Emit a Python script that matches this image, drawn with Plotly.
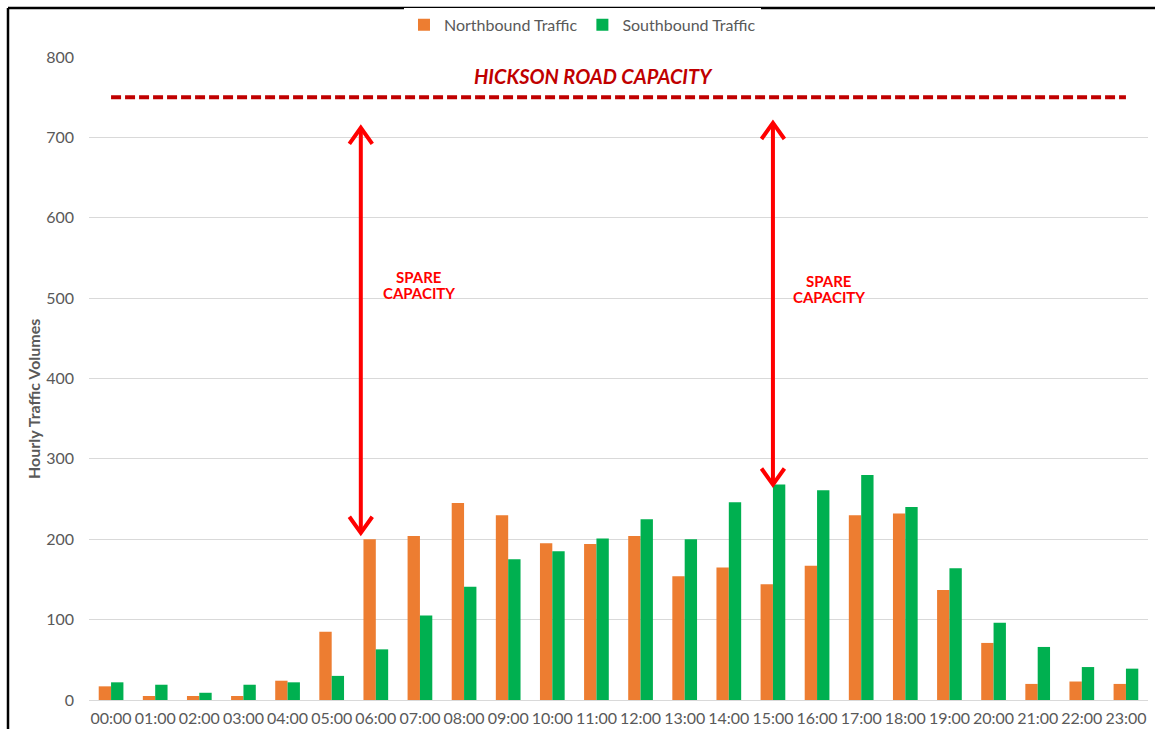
import plotly.graph_objects as go

hours = [f"{h:02d}:00" for h in range(24)]
northbound = [17, 5, 5, 5, 24, 85, 200, 204, 245, 230, 195, 194, 204, 154, 165, 144, 167, 230, 232, 137, 71, 20, 23, 20]
southbound = [22, 19, 9, 19, 22, 30, 63, 105, 141, 175, 185, 201, 225, 200, 246, 268, 261, 280, 240, 164, 96, 66, 41, 39]
capacity = 750
y_ticks = [0, 100, 200, 300, 400, 500, 600, 700, 800]

FONT = "Lato"
GRAY = "#595959"
W, H = 1155, 729
ML, MR, MT, MB = 89, 7, 57, 29
PW, PH = W - ML - MR, H - MT - MB

fig = go.Figure()
fig.add_trace(go.Bar(x=list(range(24)), y=northbound, name="Northbound Traffic",
                     marker=dict(color="#ED7D31", line=dict(width=0))))
fig.add_trace(go.Bar(x=list(range(24)), y=southbound, name="Southbound Traffic",
                     marker=dict(color="#00B050", line=dict(width=0))))

# capacity line
fig.add_trace(go.Scatter(x=[0, 23], y=[capacity, capacity], mode="lines",
                         line=dict(color="#C00000", width=4, dash="10px,4px"),
                         showlegend=False, hoverinfo="skip"))

shapes = []
def arrow(xc, y_bot, y_top):
    dx, dy = 0.26, 20
    shapes.append(dict(type="line", xref="x", yref="y", x0=xc, x1=xc, y0=y_bot + 3, y1=y_top - 3,
                       line=dict(color="#FF0000", width=4)))
    path = (f"M {xc-dx},{y_top-dy} L {xc},{y_top} L {xc+dx},{y_top-dy} "
            f"M {xc-dx},{y_bot+dy} L {xc},{y_bot} L {xc+dx},{y_bot+dy}")
    shapes.append(dict(type="path", xref="x", yref="y", path=path,
                       line=dict(color="#FF0000", width=4)))

arrow(5.66, 208, 712)
arrow(15.0, 268, 718)

# frame: only left and top edges are visible in the picture
fx0 = (8 - ML) / PW
fy1 = (H - MB - 8) / PH
shapes.append(dict(type="line", xref="paper", yref="paper", x0=fx0, x1=(W - ML) / PW,
                   y0=fy1, y1=fy1, line=dict(color="black", width=2.5), layer="above"))
shapes.append(dict(type="line", xref="paper", yref="paper", x0=fx0, x1=fx0,
                   y0=-MB / PH, y1=fy1, line=dict(color="black", width=2.5), layer="above"))

red = "#FF0000"
annotations = [
    dict(x=10.94, y=776, xref="x", yref="y", text="<b><i>HICKSON ROAD CAPACITY</i></b>",
         showarrow=False, font=dict(family=FONT, size=20, color="#C00000")),
    dict(x=6.98, y=526, xref="x", yref="y", text="<b>SPARE</b>",
         showarrow=False, font=dict(family=FONT, size=15, color=red)),
    dict(x=6.98, y=506, xref="x", yref="y", text="<b>CAPACITY</b>",
         showarrow=False, font=dict(family=FONT, size=15, color=red)),
    dict(x=16.27, y=521, xref="x", yref="y", text="<b>SPARE</b>",
         showarrow=False, font=dict(family=FONT, size=15, color=red)),
    dict(x=16.27, y=501, xref="x", yref="y", text="<b>CAPACITY</b>",
         showarrow=False, font=dict(family=FONT, size=15, color=red)),
    dict(x=(33 - ML) / PW, y=(H - MB - 399) / PH, xref="paper", yref="paper",
         text="<b>Hourly Traffic Volumes</b>", textangle=-90, showarrow=False,
         xanchor="center", yanchor="middle",
         font=dict(family=FONT, size=16, color=GRAY)),
]

fig.update_layout(
    width=W, height=H,
    margin=dict(l=ML, r=MR, t=MT, b=MB),
    paper_bgcolor="white", plot_bgcolor="white",
    barmode="group", bargap=0.44, bargroupgap=0,
    font=dict(family=FONT, size=16, color=GRAY),
    legend=dict(orientation="h", x=0.466, xanchor="center", y=1.05, yanchor="middle",
                font=dict(family=FONT, size=16, color=GRAY), itemwidth=30),
    xaxis=dict(tickmode="array", tickvals=list(range(24)), ticktext=hours,
               range=[-0.5, 23.5], showgrid=False, showline=False, ticks="",
               ticklabelstandoff=7, automargin=False,
               tickfont=dict(family=FONT, size=16, color=GRAY)),
    yaxis=dict(range=[0, 800], tickvals=y_ticks, showgrid=True, gridcolor="#D9D9D9",
               gridwidth=1, zeroline=True, zerolinecolor="#D9D9D9", zerolinewidth=1,
               ticks="", ticklabelstandoff=14, automargin=False,
               tickfont=dict(family=FONT, size=16, color=GRAY)),
    shapes=shapes, annotations=annotations,
)

fig.write_html("out.html", config={"displayModeBar": False},
               post_script="document.body.style.margin='0';document.body.style.overflow='hidden';")
